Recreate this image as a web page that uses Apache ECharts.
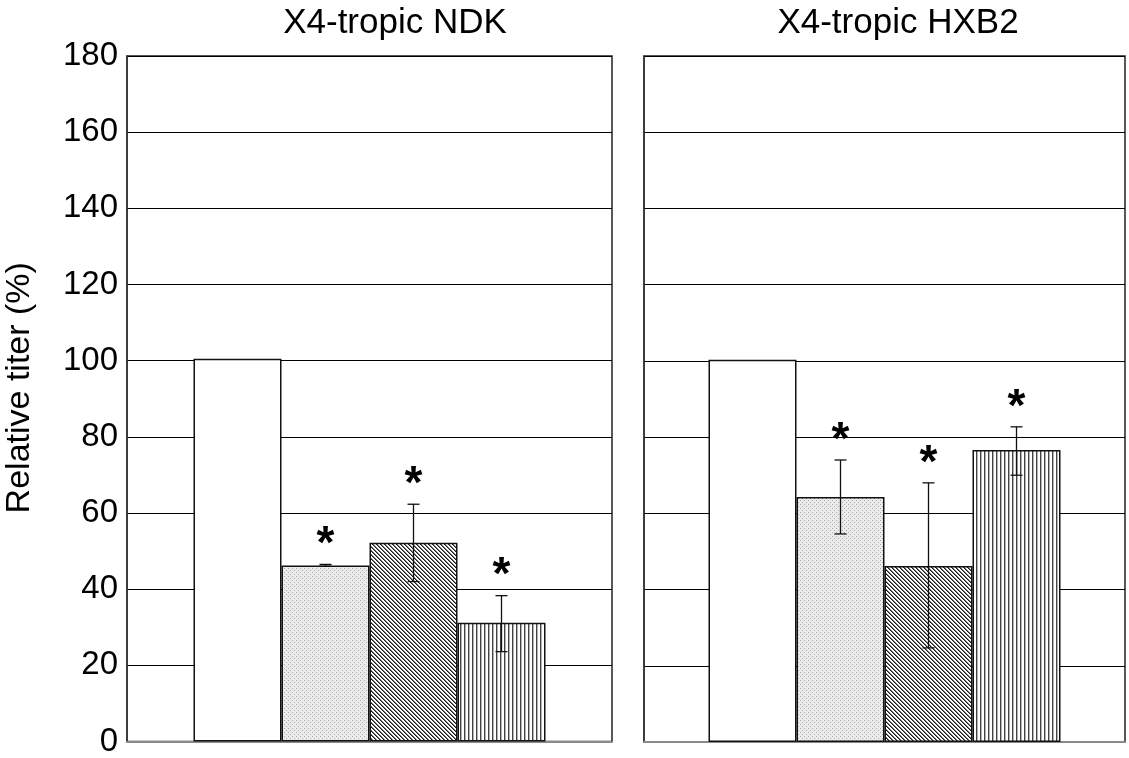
<!DOCTYPE html>
<html>
<head>
<meta charset="utf-8">
<title>Relative titer</title>
<script src="https://cdn.jsdelivr.net/npm/echarts@6/dist/echarts.min.js"></script>
<style>
  html, body { margin: 0; padding: 0; background: #fff; }
  #chart { width: 1129px; height: 758px; }
</style>
</head>
<body>
<div id="chart"></div>
<script>
// panel titles
const panels = ['X4-tropic NDK', 'X4-tropic HXB2'];
const yTicks = [0, 20, 40, 60, 80, 100, 120, 140, 160, 180];

// bar heights (relative titer %), 4 conditions per panel
const ndkValues = [100.5, 46.2, 52.2, 31.2];
const ndkLow = [null, 46.0, 42.0, 23.6];
const ndkHigh = [null, 46.5, 62.3, 38.3];

const hxbValues = [100.3, 64.3, 46.2, 76.6];
const hxbLow = [null, 54.6, 24.7, 70.0];
const hxbHigh = [null, 74.0, 68.0, 82.7];

const significant = [false, true, true, true];

const BAR_W = 88;
const FONT = '"Liberation Sans", Arial, sans-serif';

// fill patterns drawn on small canvases
function makePattern(kind) {
  const c = document.createElement('canvas');
  const size = 4;
  c.width = size; c.height = size;
  const ctx = c.getContext('2d');
  ctx.fillStyle = '#fff';
  ctx.fillRect(0, 0, size, size);
  if (kind === 'dots') {
    ctx.fillStyle = '#ececec';
    ctx.fillRect(0, 0, size, size);
    ctx.fillStyle = '#a8a8a8';
    ctx.fillRect(0, 0, 1, 1);
    ctx.fillRect(2, 2, 1, 1);
  } else if (kind === 'diag') {
    for (let x = 0; x < size; x++) {
      for (let y = 0; y < size; y++) {
        const d = ((x - y) % size + size) % size;
        if (d === 0) { ctx.fillStyle = '#1a1a1a'; ctx.fillRect(x, y, 1, 1); }
        if (d === 1) { ctx.fillStyle = '#777'; ctx.fillRect(x, y, 1, 1); }
      }
    }
  } else if (kind === 'vert') {
    ctx.fillStyle = '#444';
    ctx.fillRect(0, 0, 1, size);
    ctx.fillStyle = '#b0b0b0';
    ctx.fillRect(1, 0, 1, size);
  }
  return { image: c, repeat: 'repeat' };
}

const fills = ['#ffffff', makePattern('dots'), makePattern('diag'), makePattern('vert')];

const chart = echarts.init(document.getElementById('chart'));

const grids = [
  { left: 127, top: 56, width: 485, height: 686 },
  { left: 644, top: 56, width: 481, height: 686 }
];
const titleX = [390, 893];

function xAxis(i) {
  return {
    type: 'category', gridIndex: i, data: [''],
    axisLine: { lineStyle: { color: '#8a8a8a', width: 2 } },
    axisTick: { show: false }, axisLabel: { show: false }
  };
}

function yAxis(i) {
  return {
    type: 'value', gridIndex: i, min: 0, max: 180, interval: 20,
    axisLine: { show: true, lineStyle: { color: '#333', width: 1.5 } },
    axisTick: { show: false },
    axisLabel: {
      show: i === 0, color: '#000', fontSize: 33, fontFamily: FONT, margin: 9,
      formatter: v => (yTicks.indexOf(v) >= 0 ? String(v) : '')
    },
    splitLine: { lineStyle: { color: '#000', width: 1 } },
    name: i === 0 ? 'Relative titer (%)' : '',
    nameLocation: 'middle', nameGap: 90, nameRotate: 90,
    nameTextStyle: { color: '#000', fontSize: 34, fontFamily: FONT, padding: [0, 0, 0, 22] }
  };
}

function barSeries(values, gi) {
  return values.map((v, k) => ({
    type: 'bar', xAxisIndex: gi, yAxisIndex: gi,
    data: [v], barWidth: BAR_W, barGap: '0%',
    itemStyle: { color: fills[k], borderColor: '#111', borderWidth: 1.5 },
    silent: true, z: 3
  }));
}

function errorSeries(low, high, gi) {
  const data = [];
  low.forEach((lo, k) => {
    if (lo == null) return;
    data.push([0, high[k], lo, k, significant[k] ? 1 : 0]);
  });
  return {
    type: 'custom', xAxisIndex: gi, yAxisIndex: gi, z: 5, silent: true,
    data: data,
    encode: { x: 0, y: 1 },
    renderItem: function (params, api) {
      const cat = api.value(0);
      const k = api.value(3);
      const top = api.coord([cat, api.value(1)]);
      const bot = api.coord([cat, api.value(2)]);
      const x = top[0] + (k - 1.5) * BAR_W;
      const cap = 6;
      const style = { stroke: '#111', lineWidth: 1.3 };
      const children = [
        { type: 'line', shape: { x1: x, y1: top[1], x2: x, y2: bot[1] }, style: style },
        { type: 'line', shape: { x1: x - cap, y1: top[1], x2: x + cap, y2: top[1] }, style: style },
        { type: 'line', shape: { x1: x - cap, y1: bot[1], x2: x + cap, y2: bot[1] }, style: style }
      ];
      if (api.value(4)) {
        children.push({
          type: 'text',
          style: {
            text: '*', x: x, y: top[1] - 19, fill: '#000',
            font: 'bold 46px ' + FONT, textAlign: 'center', textVerticalAlign: 'middle'
          }
        });
      }
      return { type: 'group', children: children };
    }
  };
}

chart.setOption({
  animation: false,
  backgroundColor: '#fff',
  title: panels.map((t, i) => ({
    text: t,
    left: titleX[i],
    top: 1,
    textAlign: 'center',
    textStyle: { color: '#000', fontSize: 35, fontWeight: 'normal', fontFamily: FONT }
  })),
  grid: grids.map(g => Object.assign({ show: true, borderColor: '#222', borderWidth: 1.5 }, g)),
  xAxis: [xAxis(0), xAxis(1)],
  yAxis: [yAxis(0), yAxis(1)],
  series: [].concat(
    barSeries(ndkValues, 0),
    barSeries(hxbValues, 1),
    [errorSeries(ndkLow, ndkHigh, 0), errorSeries(hxbLow, hxbHigh, 1)]
  )
});
</script>
</body>
</html>
